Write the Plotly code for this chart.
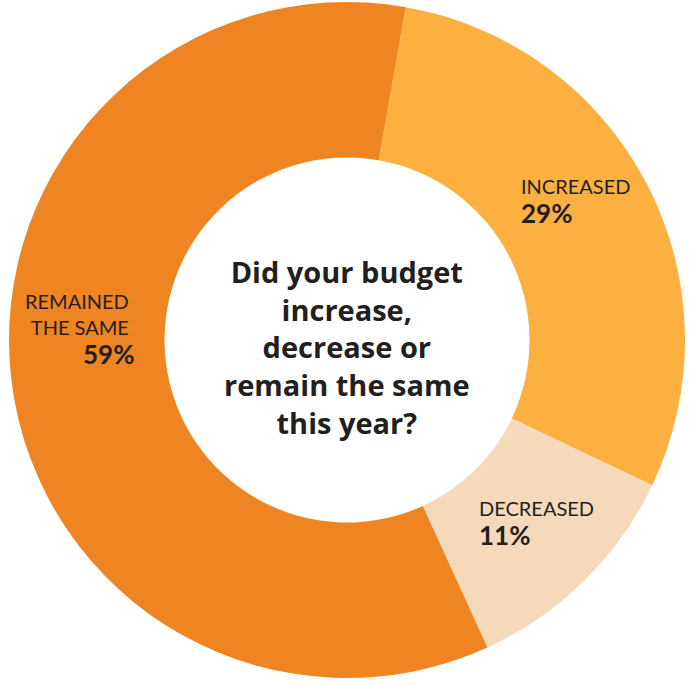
import plotly.graph_objects as go

labels = ["INCREASED", "DECREASED", "REMAINED THE SAME"]
label_lines = [["INCREASED"], ["DECREASED"], ["REMAINED", "THE SAME"]]
values = [29, 11, 59]
colors = ["#FBB040", "#F6D9BB", "#EF8422"]
center_title = ["Did your budget", "increase,", "decrease or", "remain the same", "this year?"]

W, H = 700, 686
cx, cy, R = 347, 340, 338

def px(x):
    return x / W

def py(y):
    return 1 - y / H

fig = go.Figure(go.Pie(
    labels=labels,
    values=values,
    hole=0.54,
    sort=False,
    direction="clockwise",
    rotation=10,
    marker=dict(colors=colors, line=dict(width=0)),
    textinfo="none",
    hoverinfo="label+percent",
    showlegend=False,
    domain=dict(x=[px(cx - R), px(cx + R)], y=[py(cy + R), py(cy - R)]),
))

txt = "#231F20"
font_name = "Lato"
annotations = []

label_pos = [
    (519, 185, "left"),
    (477, 507, "left"),
    (131, 300, "right"),
]
for (lx, ly, al), lines, v in zip(label_pos, label_lines, values):
    anchor = "left" if al == "left" else "right"
    annotations.append(dict(
        x=px(lx), y=py(ly - 13), xref="paper", yref="paper",
        text="<br>".join(lines), showarrow=False, xanchor=anchor, yanchor="top",
        align=al,
        font=dict(family=font_name, size=20, color=txt),
    ))
    pct_y = ly + (len(lines) - 1) * 26 + 28
    pct_x = lx if al == "left" else lx + 5
    annotations.append(dict(
        x=px(pct_x), y=py(pct_y), xref="paper", yref="paper",
        text="<b>%d%%</b>" % v, showarrow=False, xanchor=anchor, yanchor="middle",
        font=dict(family=font_name, size=26, color=txt),
    ))

annotations.append(dict(
    x=px(cx), y=py(347), xref="paper", yref="paper",
    text="<b>" + "<br>".join(center_title) + "</b>", showarrow=False,
    xanchor="center", yanchor="middle", align="center",
    font=dict(family="Open Sans", size=29, color=txt),
))

fig.update_layout(
    width=W, height=H,
    margin=dict(l=0, r=0, t=0, b=0),
    paper_bgcolor="white", plot_bgcolor="white",
    annotations=annotations,
)

fig.write_html("out.html")
